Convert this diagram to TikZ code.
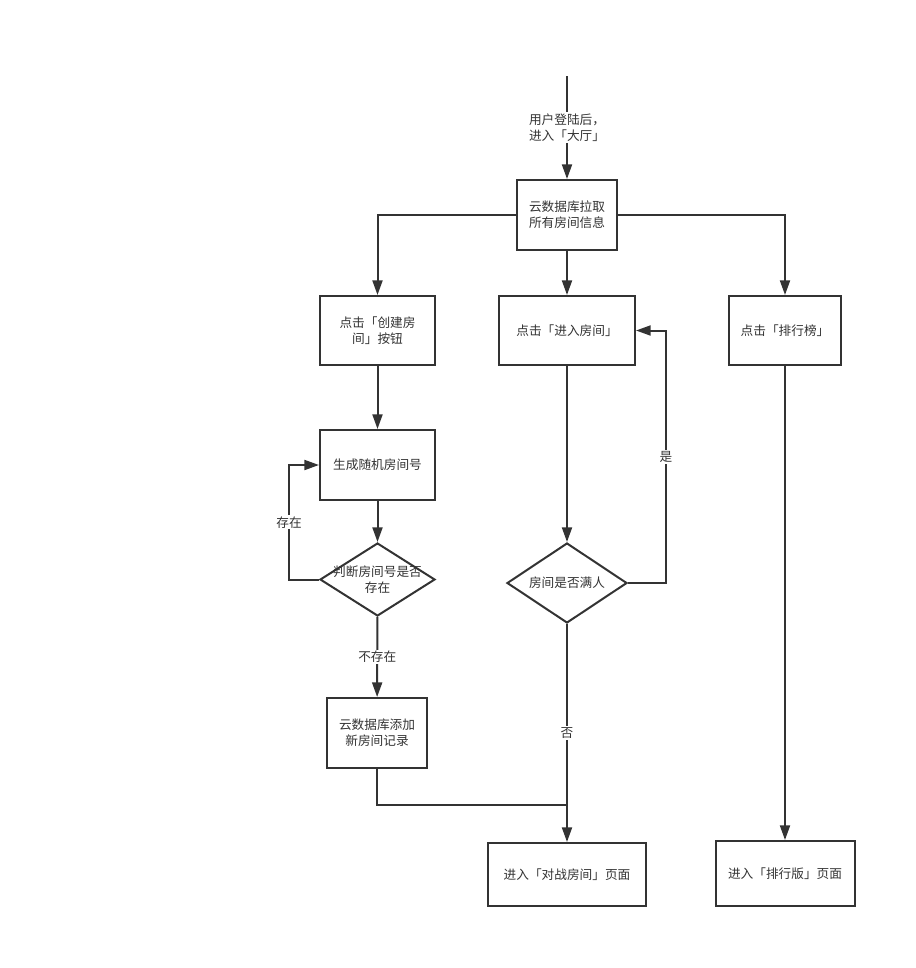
\documentclass[tikz,border=0pt]{standalone}
\usepackage{fontspec}
\setmainfont{Noto Sans CJK SC}
\usetikzlibrary{shapes.geometric,arrows.meta}
\definecolor{line}{HTML}{333333}

\begin{document}
\begin{tikzpicture}[x=0.75pt, y=-0.75pt, line width=1.5pt, color=line, font=\fontsize{9.5pt}{12pt}\selectfont]
              \tikzstyle{box} = [draw, rectangle, fill=white, inner sep=0pt, align=center]
              \tikzstyle{check} = [draw, diamond, fill=white, inner sep=0pt]
              \tikzstyle{tag} = [fill=white, inner sep=1pt, align=center]
              \tikzstyle{flow} = [-{Triangle[length=11pt, width=7.5pt]}]

              \useasboundingbox (0,0) rectangle (916,968);

              \coordinate (start) at (567,76);
              \node[box, minimum width=75pt, minimum height=52.5pt] (cloud) at (567,215) {云数据库拉取\\所有房间信息};
              \node[box, minimum width=86.25pt, minimum height=51.75pt] (create) at (377.5,330.5) {点击「创建房\\间」按钮};
              \node[box, minimum width=102pt, minimum height=51.75pt] (enter) at (567,330.5) {点击「进入房间」};
              \node[box, minimum width=84pt, minimum height=51.75pt] (rankbtn) at (785,330.5) {点击「排行榜」};
              \node[box, minimum width=86.25pt, minimum height=52.5pt] (gen) at (377.5,465) {生成随机房间号};
              \node[check, minimum width=86.25pt, minimum height=54.75pt,
                label={[align=center]center:判断房间号是否\\存在}] (exists) at (377.5,579.5) {};
              \node[box, minimum width=75pt, minimum height=52.5pt] (add) at (377,733) {云数据库添加\\新房间记录};
              \node[check, minimum width=90pt, minimum height=60pt,
                label={center:房间是否满人}] (full) at (567,583) {};
              \node[box, minimum width=118.5pt, minimum height=47.25pt] (battle) at (567,874.5) {进入「对战房间」页面};
              \node[box, minimum width=104.25pt, minimum height=48.75pt] (rank) at (785,873.5) {进入「排行版」页面};
              \coordinate (join) at (567,805);

              \draw[flow] (start) -- node[tag] {用户登陆后，\\进入「大厅」} (cloud);
              \draw[flow] (cloud) -| (create);
              \draw[flow] (cloud) -- (enter);
              \draw[flow] (cloud) -| (rankbtn);
              \draw[flow] (create) -- (gen);
              \draw[flow] (gen) -- (exists);
              \draw[flow] (exists.west) -- ++(-30,0) |- node[tag, pos=0.25] {存在} (gen.west);
              \draw[flow] (exists) -- node[tag] {不存在} (add);
              \draw (add) |- (join);
              \draw[flow] (enter) -- (full);
              \draw[flow] (full.east) -- ++(38,0) |- node[tag, pos=0.25] {是} (enter.east);
              \draw[flow] (full) -- node[tag] {否} (battle);
              \draw[flow] (rankbtn) -- (rank);

            \end{tikzpicture}
\end{document}
